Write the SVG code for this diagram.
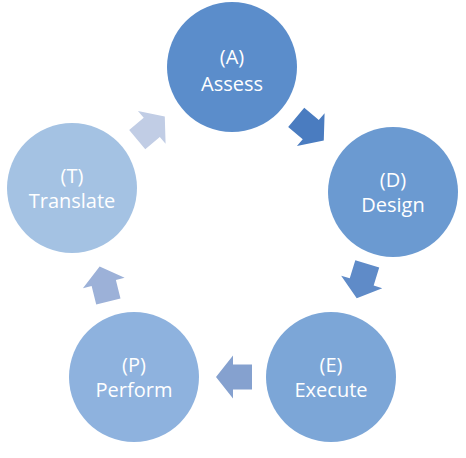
<svg xmlns="http://www.w3.org/2000/svg" width="466" height="458" viewBox="0 0 466 458">
<style>
.lbl{font-family:"Open Sans","Noto Sans",sans-serif;font-size:20px;fill:#ffffff;text-anchor:middle}
</style>
<defs>
<polygon id="arr" points="-18,-12.5 1,-12.5 1,-21.5 18,0 1,21.5 1,12.5 -18,12.5"/>
</defs>
<rect width="466" height="458" fill="#ffffff"/>
<g id="connectors">
<use href="#arr" fill="#4A7CC0" transform="translate(310,129) rotate(40)"/>
<use href="#arr" fill="#5F8BC8" transform="translate(362,281) rotate(107)"/>
<use href="#arr" fill="#85A1CF" transform="translate(234,377) rotate(180)"/>
<use href="#arr" fill="#9CB1D8" transform="translate(104,284) rotate(-104)"/>
<use href="#arr" fill="#C1CDE5" transform="translate(151,128) rotate(-40)"/>
</g>
<g id="node-A">
<circle cx="232" cy="67" r="65" fill="#5B8DCB"/>
<text class="lbl" x="232" y="64">(A)</text>
<text class="lbl" x="232" y="91">Assess</text>
</g>
<g id="node-D">
<circle cx="393" cy="192" r="65" fill="#6B9AD1"/>
<text class="lbl" x="393" y="187">(D)</text>
<text class="lbl" x="393" y="212">Design</text>
</g>
<g id="node-E">
<circle cx="331" cy="377" r="65" fill="#7CA6D7"/>
<text class="lbl" x="331" y="372">(E)</text>
<text class="lbl" x="331" y="397">Execute</text>
</g>
<g id="node-P">
<circle cx="134" cy="377" r="65" fill="#8EB2DE"/>
<text class="lbl" x="134" y="372">(P)</text>
<text class="lbl" x="134" y="397">Perform</text>
</g>
<g id="node-T">
<circle cx="72" cy="188" r="65" fill="#A4C2E3"/>
<text class="lbl" x="72" y="183">(T)</text>
<text class="lbl" x="72" y="208">Translate</text>
</g>
</svg>
